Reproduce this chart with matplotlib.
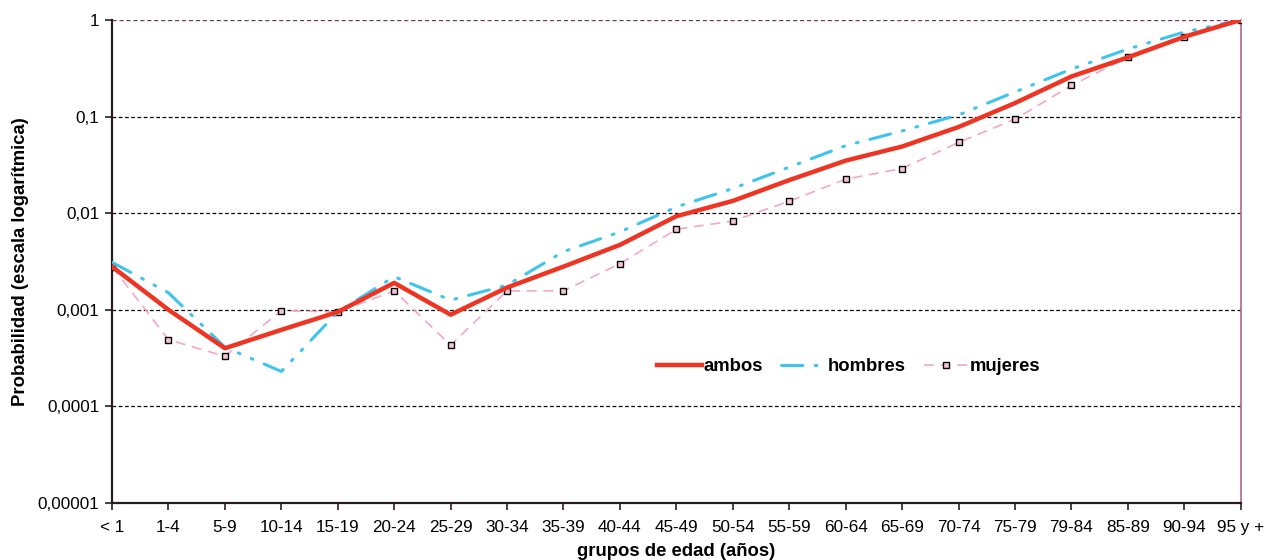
import numpy as np
import matplotlib.pyplot as plt
from matplotlib.ticker import FixedLocator, NullLocator

plt.rcParams['font.family'] = ['Liberation Sans', 'DejaVu Sans']

grupos = ["< 1", "1-4", "5-9", "10-14", "15-19", "20-24", "25-29", "30-34",
          "35-39", "40-44", "45-49", "50-54", "55-59", "60-64", "65-69",
          "70-74", "75-79", "79-84", "85-89", "90-94", "95 y +"]

ambos = [0.0028, 0.0010, 0.00040, 0.00062, 0.00095, 0.0019, 0.00089, 0.0017,
         0.0028, 0.0047, 0.0093, 0.0134, 0.022, 0.035, 0.049, 0.078, 0.138,
         0.26, 0.41, 0.67, 1.0]
hombres = [0.0031, 0.0015, 0.00041, 0.00023, 0.00095, 0.0022, 0.00126, 0.0018,
           0.0040, 0.0064, 0.0116, 0.018, 0.030, 0.050, 0.071, 0.104, 0.18,
           0.31, 0.50, 0.75, 1.0]
mujeres = [0.0028, 0.00049, 0.00033, 0.00098, 0.00095, 0.00157, 0.00043, 0.00157,
           0.00157, 0.0030, 0.0068, 0.0083, 0.0133, 0.0225, 0.029, 0.054, 0.094,
           0.21, 0.41, 0.66, 1.0]

x = np.arange(len(grupos))

fig = plt.figure(figsize=(12.66, 5.6), dpi=100)
ax = fig.add_axes([0.0885, 0.1018, 0.8915, 0.8625])

ax.set_yscale('log')
ax.set_ylim(1e-5, 1)
ax.set_xlim(0, len(grupos) - 1)

# rejilla a trazos
for v in [1e-4, 1e-3, 1e-2, 1e-1]:
    ax.axhline(v, color='black', lw=0.9, ls=(0, (3, 2)), zorder=1)
ax.axhline(1, color='#7a3a5e', lw=1.0, ls=(0, (3, 2)), zorder=1)

ax.plot(x, mujeres, color='#f4a7c6', lw=1.2, ls=(0, (6, 4)),
        marker='s', ms=5, mfc='#f7c4d8', mec='black', mew=1.0,
        label='mujeres', zorder=3)
ax.plot(x, hombres, color='#3ec4ef', lw=2.2, ls=(0, (7, 4, 0.6, 4, 0.6, 4)),
        dash_capstyle='round', label='hombres', zorder=4)
ax.plot(x, ambos, color='#ee3524', lw=3.2, label='ambos', zorder=5)

ax.set_xticks(x)
ax.set_xticklabels(grupos, fontsize=12.3)
ax.yaxis.set_major_locator(FixedLocator([1e-5, 1e-4, 1e-3, 1e-2, 1e-1, 1]))
ax.yaxis.set_minor_locator(NullLocator())
ax.set_yticklabels(['0,00001', '0,0001', '0,001', '0,01', '0,1', '1'], fontsize=12.3)
ax.tick_params(direction='out', length=5, width=1.2, color='#222222', pad=4)
ax.tick_params(axis='x', pad=7)

for s in ['left', 'bottom']:
    ax.spines[s].set_color('#2a1a22')
    ax.spines[s].set_linewidth(1.6)
ax.spines['right'].set_color('#b06690')
ax.spines['right'].set_linewidth(1.2)
ax.spines['top'].set_visible(False)

ax.set_xlabel('grupos de edad (años)', fontsize=13.3, fontweight='bold', labelpad=6)
ax.set_ylabel('Probabilidad (escala logarítmica)', fontsize=13.3, fontweight='bold', labelpad=6)

h, l = ax.get_legend_handles_labels()
ax.legend(h[::-1], l[::-1], ncol=3, frameon=False, loc='center',
          bbox_to_anchor=(0.653, 0.282), prop={'weight': 'bold', 'size': 13.3},
          handlelength=2.4, handletextpad=0.1, columnspacing=1.0)

plt.savefig('out.png', dpi=100)
